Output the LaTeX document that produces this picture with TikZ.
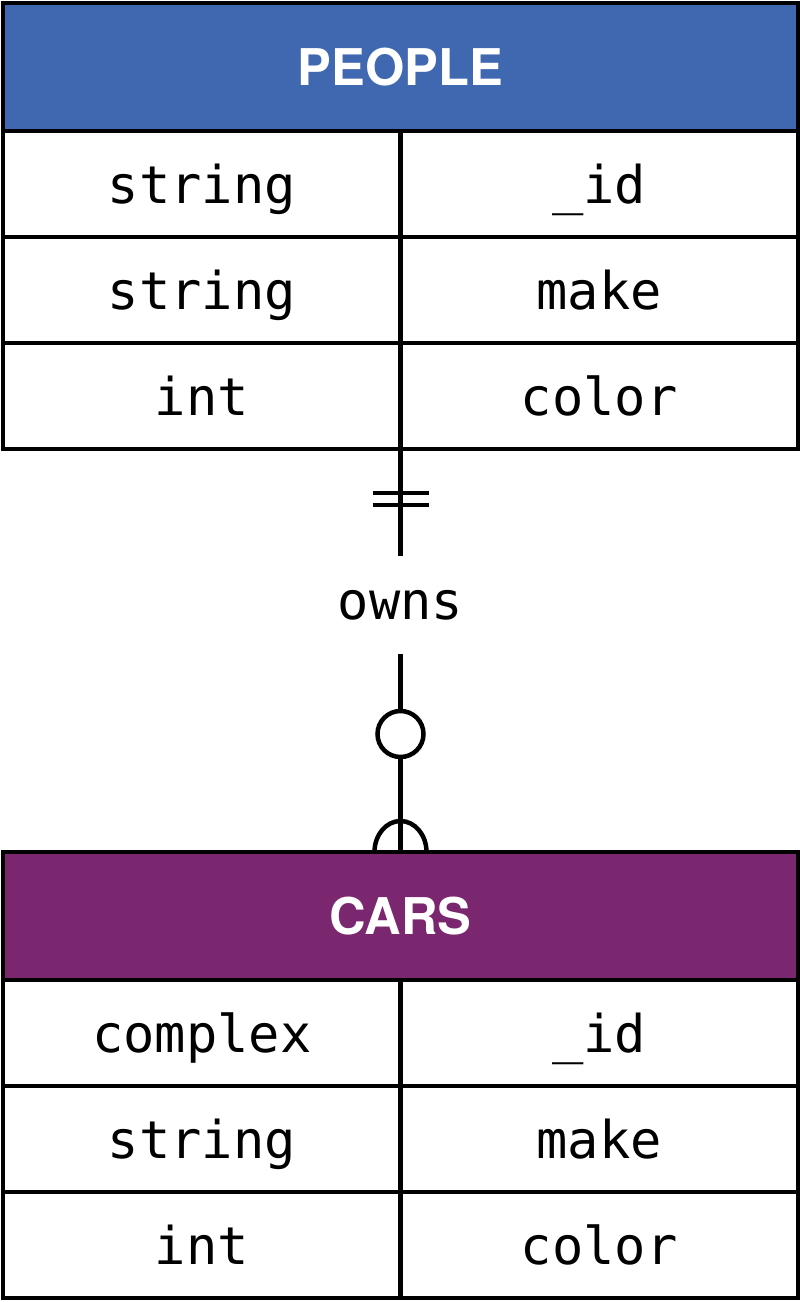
\documentclass[tikz,border=0pt]{standalone}
\usepackage{fontspec}
\setsansfont{TeX Gyre Heros}
\setmonofont{DejaVu Sans Mono}
\usetikzlibrary{positioning,calc}
\definecolor{peoplehd}{HTML}{3F68B1}
\definecolor{carshd}{HTML}{7A276F}
\definecolor{ink}{HTML}{000000}

\begin{document}
\begin{tikzpicture}[
  line width=3.2pt,
  tabhead/.style={draw=ink,rectangle,outer sep=0pt,minimum width=19.875cm,minimum height=3.2cm,text=white,font=\sffamily\bfseries\fontsize{36}{40}\selectfont},
  cell/.style={draw=ink,rectangle,outer sep=0pt,minimum width=9.9375cm,minimum height=2.65cm,anchor=north west,text height=34pt,text depth=5.6pt,font=\ttfamily\fontsize{37}{40}\selectfont},
  rel/.style={font=\ttfamily\fontsize{37}{40}\selectfont,minimum height=2.45cm,inner sep=0pt,outer sep=0pt}
]
\useasboundingbox (0,0) rectangle (20,-32.55);
% people table
\node[tabhead,fill=peoplehd] (people) at (10.0125,-1.675) {PEOPLE};
\node[cell] (ptype1) at (people.south west) {string};
\node[cell] (pname1) at (ptype1.north east) {\_id};
\node[cell] (ptype2) at (ptype1.south west) {string};
\node[cell] (pname2) at (ptype2.north east) {make};
\node[cell] (ptype3) at (ptype2.south west) {int};
\node[cell] (pname3) at (ptype3.north east) {color};
% relationship
\node[rel,below=2.675cm of ptype3.south east,anchor=north] (owns) {owns};
% cars table
\node[tabhead,fill=carshd,below=4.95cm of owns.south,anchor=north] (cars) {CARS};
\node[cell] (ctype1) at (cars.south west) {complex};
\node[cell] (cname1) at (ctype1.north east) {\_id};
\node[cell] (ctype2) at (ctype1.south west) {string};
\node[cell] (cname2) at (ctype2.north east) {make};
\node[cell] (ctype3) at (ctype2.south west) {int};
\node[cell] (cname3) at (ctype3.north east) {color};
% connector
\draw (ptype3.south east) -- (owns.north);
\draw (owns.south) -- (cars.north);
% exactly one
\draw ($(ptype3.south east)+(-0.7,-1.1)$) -- ++(1.4,0);
\draw ($(ptype3.south east)+(-0.7,-1.4)$) -- ++(1.4,0);
% zero or many
\filldraw[fill=white] ($(owns.south)+(0,-2.0)$) circle (0.575);
\draw ($(cars.north)+(-0.65,0)$) arc[start angle=180,end angle=0,x radius=0.65,y radius=0.775];
\end{tikzpicture}
\end{document}
